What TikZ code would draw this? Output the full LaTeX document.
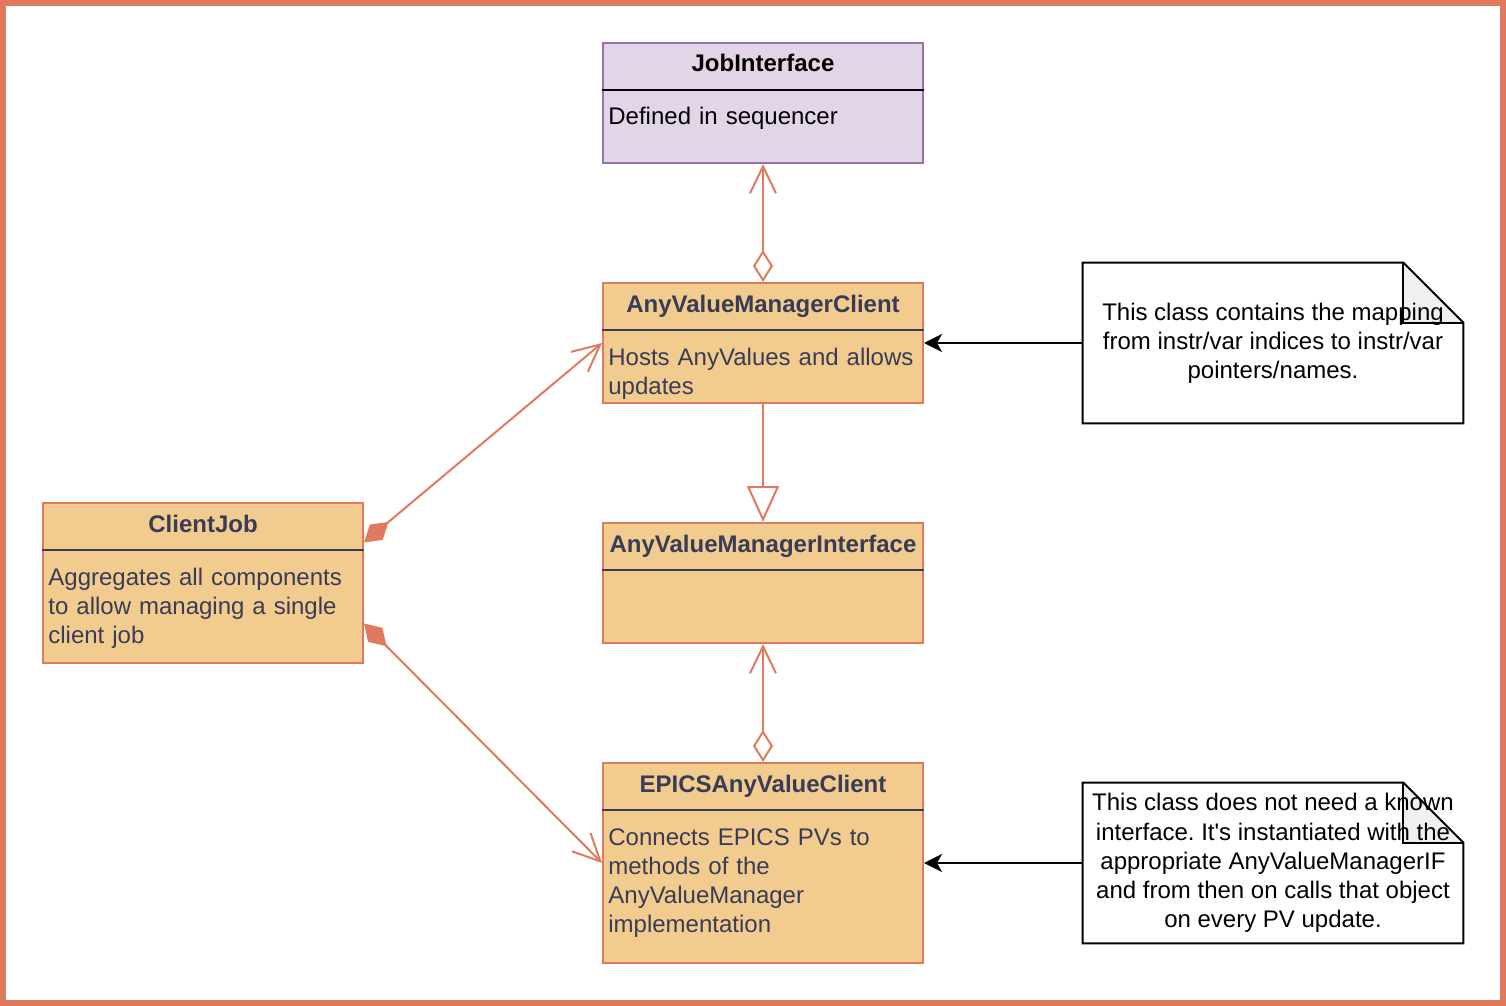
\documentclass[tikz,border=0pt]{standalone}
\usepackage{fontspec}
\setmainfont{Liberation Sans}
\usepackage{xcolor}
\usetikzlibrary{arrows.meta,calc,positioning,backgrounds}
\definecolor{coral}{HTML}{E07A5F}
\definecolor{sand}{HTML}{F2CC8F}
\definecolor{ink}{HTML}{393C56}
\definecolor{lilac}{HTML}{E1D5E7}
\definecolor{plum}{HTML}{9673A6}
\definecolor{foldgray}{HTML}{F0F0F0}
\newcommand{\dfont}{\fontsize{12}{14.6}\selectfont\frenchspacing}

\begin{document}
\begin{tikzpicture}[x=0.5pt, y=-0.5pt,
	cls/.style = {draw=coral, fill=sand, line width=1pt, minimum width=160pt, inner sep=0pt},
	ifc/.style = {draw=plum, fill=lilac},
	title/.style = {font=\dfont\bfseries, text=ink, anchor=base, inner sep=0pt},
	body/.style = {font=\dfont, text=ink, text width=155pt, align=left, inner sep=0pt, anchor=base west},
	sep/.style = {draw=ink, line width=1pt},
	note/.style = {font=\dfont, align=center, minimum width=190pt, minimum height=80pt, inner sep=0pt},
	assoc/.style = {draw=coral, line width=1pt, {Diamond[open,length=16pt,width=10pt]}-{Straight Barb[length=13.5pt,width=13pt]}},
	compo/.style = {draw=coral, fill=coral, line width=1pt, {Diamond[length=16pt,width=10pt]}-{Straight Barb[length=13.5pt,width=13pt]}},
	inherit/.style = {draw=coral, line width=1pt, -{Triangle[open,length=18pt,width=16pt]}},
	link/.style = {draw=black, line width=1pt, -{Stealth[length=9pt,width=9pt,inset=2.5pt]}}]
	\useasboundingbox (0,0) rectangle (1506,1006);
	\draw[coral, line width=3pt] (3,3) rectangle (1503,1003);

	% class boxes
	\node[cls, ifc, minimum height=60pt] (jobif) at (763,103) {};
	\node[cls, minimum height=60pt, below=59pt of jobif] (avmc) {};
	\node[cls, minimum height=60pt, below=59pt of avmc] (avmi) {};
	\node[cls, minimum height=100pt, below=59pt of avmi] (epics) {};
	\node[cls, minimum height=80pt, left=119pt of avmi] (cjob) {};

	\node[title, text=black] (jobif-t) at ($(jobif.north)+(0,30)$) {JobInterface};
	\draw[sep, draw=black] ($(jobif.north west)+(0,48)$) -- ($(jobif.north east)+(0,48)$);
	\node[body, text=black] (jobif-b) at ($(jobif.north west)+(6,83)$) {Defined in sequencer};

	\node[title] (avmc-t) at ($(avmc.north)+(0,30)$) {AnyValueManagerClient};
	\draw[sep] ($(avmc.north west)+(0,48)$) -- ($(avmc.north east)+(0,48)$);
	\node[body] (avmc-b) at ($(avmc.north west)+(6,83)$) {Hosts AnyValues and allows\\updates};

	\node[title] (avmi-t) at ($(avmi.north)+(0,30)$) {AnyValueManagerInterface};
	\draw[sep] ($(avmi.north west)+(0,48)$) -- ($(avmi.north east)+(0,48)$);

	\node[title] (epics-t) at ($(epics.north)+(0,30)$) {EPICSAnyValueClient};
	\draw[sep] ($(epics.north west)+(0,48)$) -- ($(epics.north east)+(0,48)$);
	\node[body] (epics-b) at ($(epics.north west)+(6,83)$) {Connects EPICS PVs to\\methods of the\\AnyValueManager\\implementation};

	\node[title] (cjob-t) at ($(cjob.north)+(0,30)$) {ClientJob};
	\draw[sep] ($(cjob.north west)+(0,48)$) -- ($(cjob.north east)+(0,48)$);
	\node[body] (cjob-b) at ($(cjob.north west)+(6,83)$) {Aggregates all components\\to allow managing a single\\client job};

	% notes
	\node[note, right=79.3pt of avmc] (n1) {This class contains the mapping\\from instr/var indices to instr/var\\pointers/names.};
	\node[note, right=79.3pt of epics] (n2) {This class does not need a known\\interface. It\textquotesingle s instantiated with the\\appropriate AnyValueManagerIF\\and from then on calls that object\\on every PV update.};
	\begin{scope}[on background layer]
		\foreach \n in {n1,n2} {
			\fill[white] (\n.north west) -- ($(\n.north east)+(-60,0)$) -- ($(\n.north east)+(0,60)$) -- (\n.south east) -- (\n.south west) -- cycle;
			\fill[foldgray] ($(\n.north east)+(-60,0)$) -- ($(\n.north east)+(0,60)$) -- ($(\n.north east)+(-60,60)$) -- cycle;
			\draw[line width=1pt, line join=miter] (\n.north west) -- ($(\n.north east)+(-60,0)$) -- ($(\n.north east)+(0,60)$) -- (\n.south east) -- (\n.south west) -- cycle;
			\draw[line width=1pt] ($(\n.north east)+(-60,0)$) -- ($(\n.north east)+(-60,60)$) -- ($(\n.north east)+(0,60)$);
		}
	\end{scope}

	% connectors
	\draw[assoc] (avmc) -- (jobif);
	\draw[inherit] (avmc) -- (avmi);
	\draw[assoc] (epics) -- (avmi);
	\draw[compo] ($(cjob.north east)!0.25!(cjob.south east)$) -- (avmc.west);
	\draw[compo] ($(cjob.north east)!0.75!(cjob.south east)$) -- (epics.west);
	\draw[link] (n1) -- (avmc);
	\draw[link] (n2) -- (epics);
\end{tikzpicture}
\end{document}
